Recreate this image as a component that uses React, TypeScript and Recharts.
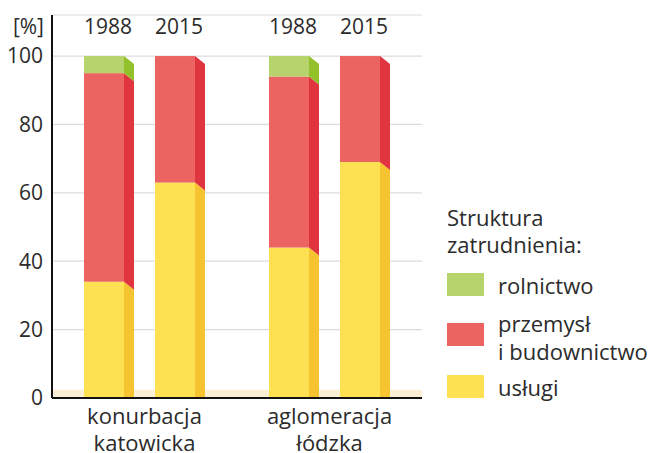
import React from "react";
import { BarChart, Bar, XAxis, YAxis, CartesianGrid, Legend, ReferenceArea } from "recharts";

const regions = ["konurbacja katowicka", "aglomeracja łódzka"];
const years = ["1988", "2015"];
const uslugi1988 = [34, 44];
const przemysl1988 = [61, 50];
const rolnictwo1988 = [5, 6];
const uslugi2015 = [63, 69];
const przemysl2015 = [37, 31];
const rolnictwo2015 = [0, 0];
const yTicks = [0, 20, 40, 60, 80, 100];
const legendTitle = ["Struktura", "zatrudnienia:"];
const legendItems = [
  { key: "rolnictwo", lines: ["rolnictwo"] },
  { key: "przemysl", lines: ["przemysł", "i budownictwo"] },
  { key: "uslugi", lines: ["usługi"] },
];

const COLORS: Record<string, { front: string; side: string }> = {
  rolnictwo: { front: "#B7D46C", side: "#92C12B" },
  przemysl: { front: "#EC6461", side: "#E0343F" },
  uslugi: { front: "#FDE152", side: "#F6C431" },
};

const data = regions.map((r, i) => ({
  region: r,
  uslugi1988: uslugi1988[i],
  przemysl1988: przemysl1988[i],
  rolnictwo1988: rolnictwo1988[i],
  uslugi2015: uslugi2015[i],
  przemysl2015: przemysl2015[i],
  rolnictwo2015: rolnictwo2015[i],
}));

const FONT = "'Open Sans', sans-serif";
const TEXT = "#2b2b2b";

const make3D = (sector: string, isBottom: boolean, year?: string) => (props: any) => {
  const { x, y, width, height, background } = props;
  const { front, side } = COLORS[sector];
  const fw = width * 0.8;
  const s = 8;
  const parts: any[] = [];
  if (height > 0) {
    const bottomRight = isBottom ? y + height : y + height + s;
    parts.push(<rect key="f" x={x} y={y} width={fw} height={height} fill={front} />);
    parts.push(
      <polygon
        key="s"
        points={`${x + fw},${y} ${x + width},${y + s} ${x + width},${bottomRight} ${x + fw},${y + height}`}
        fill={side}
      />
    );
  }
  if (year) {
    const top = background && typeof background.y === "number" ? background.y : 15;
    parts.push(
      <text key="t" x={x + width / 2 - 1} y={top + 11} textAnchor="middle" dominantBaseline="central"
        fontSize={21} fontFamily={FONT} fill={TEXT}>
        {year}
      </text>
    );
  }
  return <g>{parts}</g>;
};

const XTick = (props: any) => {
  const { x, y, payload } = props;
  const words = String(payload.value).split(" ");
  return (
    <g>
      {words.map((w, i) => (
        <text key={i} x={x} y={y + 9 + i * 27} textAnchor="middle" dominantBaseline="central"
          fontSize={22} fontFamily={FONT} fill={TEXT}>
          {w}
        </text>
      ))}
    </g>
  );
};

const LegendContent = () => (
  <div style={{ position: "relative", width: 210, height: 200, fontFamily: FONT, color: TEXT, fontSize: 22 }}>
    <div style={{ position: "absolute", left: 0, top: -1, lineHeight: "27px" }}>
      {legendTitle.map((t) => (<div key={t}>{t}</div>))}
    </div>
    {legendItems.map((it, i) => {
      const tops = [66, 104, 168];
      const sw = [68, 118, 170];
      return (
        <React.Fragment key={it.key}>
          <div style={{ position: "absolute", left: 0, top: sw[i], width: 37, height: 23, background: COLORS[it.key].front }} />
          <div style={{ position: "absolute", left: 51, top: tops[i], lineHeight: "28px", whiteSpace: "nowrap" }}>
            {it.lines.map((l) => (<div key={l}>{l}</div>))}
          </div>
        </React.Fragment>
      );
    })}
  </div>
);

const YLabel = (props: any) => {
  const vb = props.viewBox || { x: 0, y: 15, width: 52 };
  return (
    <text x={vb.x + vb.width - 8} y={vb.y + 11} textAnchor="end" dominantBaseline="central"
      fontSize={21} fontFamily={FONT} fill={TEXT}>
      [%]
    </text>
  );
};

export default function App() {
  return (
    <div style={{ position: "absolute", left: 0, top: 0, width: 656, height: 453, background: "#fff" }}>
      <BarChart width={656} height={453} data={data} margin={{ top: 15, right: 24, bottom: 25, left: 0 }}
        barSize={50} barGap={21} barCategoryGap={0}>
        <CartesianGrid vertical={false} stroke="#dcdcdc" strokeWidth={1.2} />
        <ReferenceArea y1={0} y2={2.4} fill="#FBEFD6" fillOpacity={1} stroke="none" ifOverflow="hidden" />
        <XAxis dataKey="region" tick={<XTick />} tickLine={false} axisLine={{ stroke: "#111", strokeWidth: 2 }} interval={0} />
        <YAxis type="number" domain={[0, 112]} ticks={yTicks} width={52} tickLine={false}
          axisLine={{ stroke: "#111", strokeWidth: 2 }} tickMargin={3}
          tick={{ fontSize: 21, fontFamily: FONT, fill: TEXT }} label={<YLabel />} />
        <Legend verticalAlign="middle" align="right" layout="vertical" content={<LegendContent />}
          wrapperStyle={{ left: 447, top: 205, width: 210, right: "auto", bottom: "auto" }} />
        <Bar dataKey="uslugi1988" stackId="1988" isAnimationActive={false} shape={make3D("uslugi", true, years[0])} />
        <Bar dataKey="przemysl1988" stackId="1988" isAnimationActive={false} shape={make3D("przemysl", false)} />
        <Bar dataKey="rolnictwo1988" stackId="1988" isAnimationActive={false} shape={make3D("rolnictwo", false)} />
        <Bar dataKey="uslugi2015" stackId="2015" isAnimationActive={false} shape={make3D("uslugi", true, years[1])} />
        <Bar dataKey="przemysl2015" stackId="2015" isAnimationActive={false} shape={make3D("przemysl", false)} />
        <Bar dataKey="rolnictwo2015" stackId="2015" isAnimationActive={false} shape={make3D("rolnictwo", false)} />
      </BarChart>
    </div>
  );
}
